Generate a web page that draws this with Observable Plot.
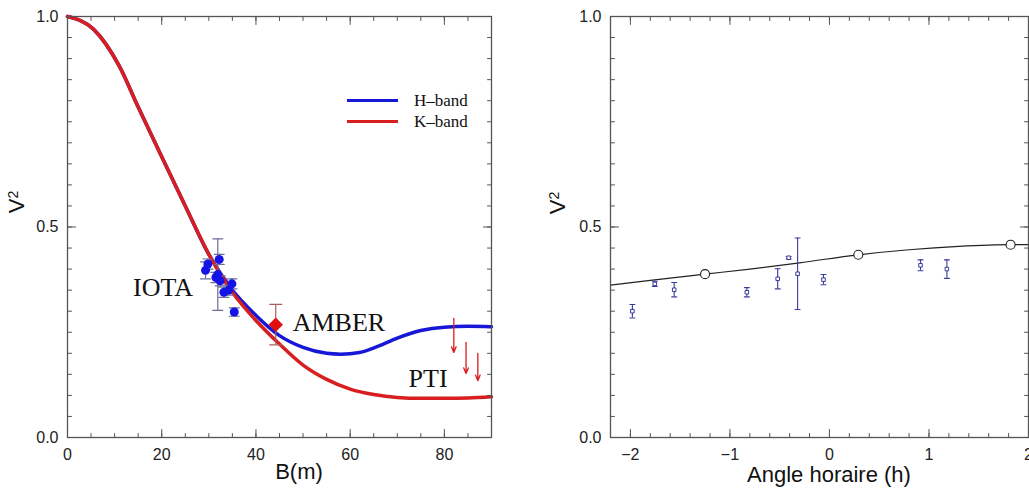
<!DOCTYPE html>
<html><head><meta charset="utf-8">
<script src="https://cdn.jsdelivr.net/npm/d3@7"></script>
<script src="https://cdn.jsdelivr.net/npm/@observablehq/plot@0.6"></script>
<style>
body{margin:0;background:#fff;}
#wrap{position:relative;width:1029px;height:489px;overflow:hidden;font-family:"Liberation Sans",Arial,sans-serif;color:#111;}
.panel{position:absolute;top:0;}
.ylab{position:absolute;font-size:22px;line-height:22px;transform:translate(-50%,-50%) rotate(-90deg);white-space:nowrap;}
.ylab sup{font-size:14px;vertical-align:6px;line-height:0;}
.xlab{position:absolute;font-size:22px;line-height:22px;transform:translateX(-50%);white-space:nowrap;}
.legend{position:absolute;left:347px;top:90px;font-family:"Liberation Serif","Times New Roman",serif;font-size:17px;}
.legend div{display:flex;align-items:center;height:21px;}
.legend span.sw{display:inline-block;width:51px;height:3px;margin-right:16px;}
</style></head><body><div id="wrap"></div>
<script>
// ---------- Left panel data ----------
const kBandB  = [0, 5.5, 11, 15, 20, 25, 30, 35, 40, 45, 50, 55, 60, 65, 70, 75, 80, 85, 90];
const kBandV2 = [1.0, 0.97, 0.882, 0.785, 0.667, 0.55, 0.435, 0.345, 0.278, 0.222, 0.172, 0.138, 0.115, 0.102, 0.095, 0.093, 0.093, 0.094, 0.097];
const hBandB  = [0, 5.5, 11, 15, 20, 25, 30, 35, 40, 45, 50, 55, 58, 62, 66, 70, 75, 80, 85, 90];
const hBandV2 = [1.0, 0.97, 0.882, 0.785, 0.667, 0.55, 0.435, 0.35, 0.29, 0.242, 0.214, 0.2, 0.198, 0.202, 0.217, 0.236, 0.254, 0.262, 0.264, 0.263];

const iotaB   = [29.3, 29.8, 31.5, 31.9, 32.2, 32.4, 33.2, 34.2, 34.9, 35.4];
const iotaV2  = [0.397, 0.412, 0.38, 0.387, 0.423, 0.372, 0.345, 0.35, 0.365, 0.298];
const iotaErr = [0.02, 0.012, 0.012, 0.085, 0.012, 0.012, 0.012, 0.012, 0.012, 0.01];

const amberB = [44.2];
const amberV2 = [0.268];
const amberErr = [0.048];

const ptiB = [82, 84.6, 87.1];
const ptiTop = [0.283, 0.226, 0.2];
const ptiBottom = [0.202, 0.152, 0.135];

const labelNames = ["IOTA", "AMBER", "PTI"];
const labelB = [13.9, 47.8, 72.4];
const labelV2 = [0.356, 0.273, 0.14];

const leftXTicks = [0, 20, 40, 60, 80];
const leftXMinor = d3.range(0, 91, 5);
const yTicks = [0, 0.5, 1];
const yMinor = d3.range(0, 21).map(i => i / 20);

// ---------- Right panel data ----------
const haModel = [-2.2, -1.8, -1.25, -0.8, -0.3, 0.29, 0.8, 1.3, 1.82, 2.0];
const v2Model = [0.362, 0.373, 0.388, 0.400, 0.415, 0.434, 0.446, 0.454, 0.458, 0.458];
const haMarkers = [-1.25, 0.29, 1.82];
const v2Markers = [0.388, 0.434, 0.458];
const haObs = [-1.98, -1.755, -1.56, -0.83, -0.52, -0.41, -0.32, -0.06, 0.915, 1.18];
const v2Obs = [0.30, 0.365, 0.351, 0.345, 0.377, 0.427, 0.389, 0.375, 0.409, 0.40];
const v2ObsErr = [0.016, 0.006, 0.017, 0.011, 0.024, 0.003, 0.085, 0.012, 0.013, 0.022];

const rightXTicks = [-2, -1, 0, 1, 2];
const rightXMinor = d3.range(-22, 21, 2).map(i => i / 10);

// ---------- helpers ----------
const lineShape = {draw(ctx, l) { ctx.moveTo(0, 0); ctx.lineTo(0, -l); }};
const axisGray = "#555";
const RED = "#d81e1e", BLUE = "#1717d8";

function frameTicks(xMajor, xMinor) {
  const marks = [];
  for (const [anchor, rot] of [["bottom", 0], ["top", 180]]) {
    marks.push(Plot.vector(xMinor, {x: d => d, frameAnchor: anchor, rotate: rot, length: 4, anchor: "start", shape: lineShape, stroke: axisGray, strokeWidth: 1}));
    marks.push(Plot.vector(xMajor, {x: d => d, frameAnchor: anchor, rotate: rot, length: 8, anchor: "start", shape: lineShape, stroke: axisGray, strokeWidth: 1}));
  }
  for (const [anchor, rot] of [["left", 90], ["right", -90]]) {
    marks.push(Plot.vector(yMinor, {y: d => d, frameAnchor: anchor, rotate: rot, length: 4, anchor: "start", shape: lineShape, stroke: axisGray, strokeWidth: 1}));
    marks.push(Plot.vector(yTicks, {y: d => d, frameAnchor: anchor, rotate: rot, length: 8, anchor: "start", shape: lineShape, stroke: axisGray, strokeWidth: 1}));
  }
  return marks;
}

const wrap = document.getElementById("wrap");

// ---------- Left plot ----------
const kCurve = kBandB.map((b, i) => ({b, v: kBandV2[i]}));
const hCurve = hBandB.map((b, i) => ({b, v: hBandV2[i]}));
const iota = iotaB.map((b, i) => ({b, v: iotaV2[i], e: iotaErr[i]}));
const amber = amberB.map((b, i) => ({b, v: amberV2[i], e: amberErr[i]}));
const pti = ptiB.map((b, i) => ({b, t: ptiTop[i], lo: ptiBottom[i]}));
const labels = labelNames.map((n, i) => ({n, b: labelB[i], v: labelV2[i]}));

const left = Plot.plot({
  width: 500, height: 489,
  marginLeft: 67, marginRight: 9, marginTop: 16, marginBottom: 52,
  style: {fontFamily: "Liberation Sans, Arial, sans-serif", fontSize: "16px", color: "#222", background: "transparent"},
  x: {domain: [0, 90]},
  y: {domain: [0, 1]},
  marks: [
    Plot.line(hCurve, {x: "b", y: "v", stroke: BLUE, strokeWidth: 3.5, curve: "monotone-x"}),
    Plot.line(kCurve, {x: "b", y: "v", stroke: RED, strokeWidth: 3.5, curve: "monotone-x"}),
    Plot.ruleX(iota, {x: "b", y1: d => d.v - d.e, y2: d => d.v + d.e, stroke: "#6d6d9a", strokeWidth: 1.2}),
    Plot.vector(iota, {x: "b", y: d => d.v + d.e, rotate: 90, length: 10, anchor: "middle", shape: lineShape, stroke: "#6d6d9a", strokeWidth: 1.2}),
    Plot.vector(iota, {x: "b", y: d => d.v - d.e, rotate: 90, length: 10, anchor: "middle", shape: lineShape, stroke: "#6d6d9a", strokeWidth: 1.2}),
    Plot.dot(iota, {x: "b", y: "v", r: 4.5, fill: "#1414e6"}),
    Plot.ruleX(amber, {x: "b", y1: d => d.v - d.e, y2: d => d.v + d.e, stroke: "#a86060", strokeWidth: 1.2}),
    Plot.vector(amber, {x: "b", y: d => d.v + d.e, rotate: 90, length: 12, anchor: "middle", shape: lineShape, stroke: "#a86060", strokeWidth: 1.2}),
    Plot.vector(amber, {x: "b", y: d => d.v - d.e, rotate: 90, length: 12, anchor: "middle", shape: lineShape, stroke: "#a86060", strokeWidth: 1.2}),
    Plot.dot(amber, {x: "b", y: "v", symbol: "diamond2", r: 6.5, fill: "#e01010", stroke: "none"}),
    Plot.arrow(pti, {x1: "b", x2: "b", y1: "t", y2: "lo", stroke: RED, strokeWidth: 1.3, headLength: 7, headAngle: 45}),
    Plot.text(labels, {x: "b", y: "v", text: "n", textAnchor: "start", fontFamily: "Liberation Serif, Times New Roman, serif", fontSize: 26, fill: "#111"}),
    Plot.frame({stroke: axisGray, strokeWidth: 1.3}),
    ...frameTicks(leftXTicks, leftXMinor),
    Plot.axisX({ticks: leftXTicks, tickSize: 0, tickPadding: 11, label: null, tickFormat: d => d}),
    Plot.axisY({ticks: yTicks, tickSize: 0, tickPadding: 9, label: null, tickFormat: d3.format(".1f")})
  ]
});
const lp = document.createElement("div"); lp.className = "panel"; lp.style.left = "0px"; lp.appendChild(left); wrap.appendChild(lp);

// ---------- Right plot ----------
const model = haModel.map((h, i) => ({h, v: v2Model[i]}));
const markers = haMarkers.map((h, i) => ({h, v: v2Markers[i]}));
const obs = haObs.map((h, i) => ({h, v: v2Obs[i], e: v2ObsErr[i]}));
const OBS = "#3a3a9c";

const right = Plot.plot({
  width: 509, height: 489,
  marginLeft: 90, marginRight: 1, marginTop: 16, marginBottom: 52,
  style: {fontFamily: "Liberation Sans, Arial, sans-serif", fontSize: "16px", color: "#222", background: "transparent", overflow: "visible"},
  x: {domain: [-2.2, 2.0]},
  y: {domain: [0, 1]},
  marks: [
    Plot.line(model, {x: "h", y: "v", stroke: "#222", strokeWidth: 1.2, curve: "monotone-x"}),
    Plot.dot(markers, {x: "h", y: "v", r: 4.5, stroke: "#222", fill: "white", strokeWidth: 1.1}),
    Plot.ruleX(obs, {x: "h", y1: d => d.v - d.e, y2: d => d.v + d.e, stroke: OBS, strokeWidth: 1.1}),
    Plot.vector(obs, {x: "h", y: d => d.v + d.e, rotate: 90, length: 5, anchor: "middle", shape: lineShape, stroke: OBS, strokeWidth: 1.1}),
    Plot.vector(obs, {x: "h", y: d => d.v - d.e, rotate: 90, length: 5, anchor: "middle", shape: lineShape, stroke: OBS, strokeWidth: 1.1}),
    Plot.dot(obs, {x: "h", y: "v", symbol: "square", r: 2, fill: "white", stroke: OBS, strokeWidth: 1}),
    Plot.frame({stroke: axisGray, strokeWidth: 1.3}),
    ...frameTicks(rightXTicks, rightXMinor),
    Plot.axisX({ticks: rightXTicks, tickSize: 0, tickPadding: 11, label: null, tickFormat: d => d < 0 ? "\u2212" + Math.abs(d) : String(d)}),
    Plot.axisY({ticks: yTicks, tickSize: 0, tickPadding: 9, label: null, tickFormat: d3.format(".1f")})
  ]
});
const rp = document.createElement("div"); rp.className = "panel"; rp.style.left = "520px"; rp.appendChild(right); wrap.appendChild(rp);

// ---------- axis titles & legend ----------
function addDiv(cls, html, x, y) {
  const d = document.createElement("div"); d.className = cls; d.innerHTML = html;
  d.style.left = x + "px"; d.style.top = y + "px"; wrap.appendChild(d); return d;
}
addDiv("ylab", "V<sup>2</sup>", 17, 202);
addDiv("ylab", "V<sup>2</sup>", 558, 203);
addDiv("xlab", "B(m)", 299, 461);
addDiv("xlab", "Angle horaire (h)", 829, 464);
addDiv("legend",
  `<div><span class="sw" style="background:${BLUE}"></span>H\u2013band</div>` +
  `<div><span class="sw" style="background:${RED}"></span>K\u2013band</div>`, 347, 90);
</script></body></html>
